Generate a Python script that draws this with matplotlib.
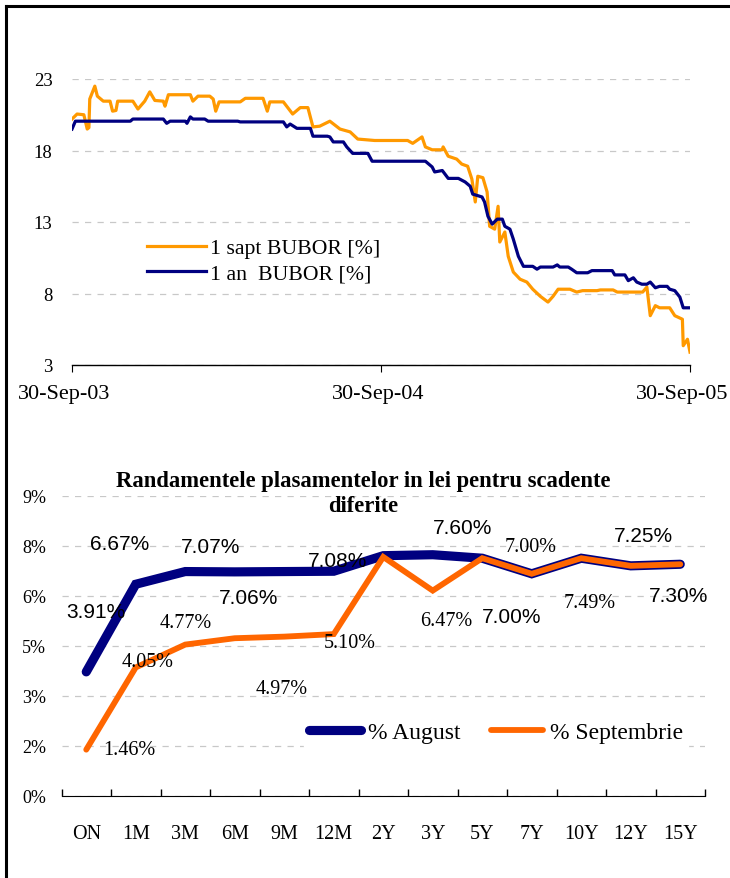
import numpy as np
import matplotlib
matplotlib.use("Agg")
import matplotlib.pyplot as plt
import matplotlib.dates as mdates
import matplotlib.transforms as mtransforms
from matplotlib.lines import Line2D

# ---- date sus: BUBOR (zile de la 30-Sep-03) ----
sapt_zile = [0, 6, 14, 18, 20, 21, 27, 30, 37, 45, 48, 52, 54, 72, 78, 86, 92, 98, 108, 110,
             114, 140, 143, 149, 163, 167, 170, 174, 199, 205, 226, 231, 234, 250, 261, 270,
             279, 285, 293, 305, 317, 329, 338, 358, 397, 403, 414, 418, 426, 438, 439, 445,
             455, 461, 468, 473, 477, 480, 486, 491, 494, 500, 504, 506, 512, 516, 522, 530,
             538, 545, 554, 563, 569, 575, 589, 597, 604, 621, 625, 640, 645, 675, 680, 684,
             690, 695, 707, 713, 722, 723, 728, 731]
sapt_val = [20.2, 20.55, 20.5, 19.5, 19.6, 21.6, 22.5, 21.8, 21.45, 21.45, 20.75, 20.8, 21.45,
            21.45, 20.9, 21.45, 22.1, 21.5, 21.45, 21.1, 21.9, 21.9, 21.45, 21.8, 21.8, 21.6,
            20.75, 21.4, 21.4, 21.65, 21.65, 20.75, 21.4, 21.4, 20.55, 21.0, 21.0, 19.65, 19.7,
            20.05, 19.5, 19.3, 18.8, 18.7, 18.7, 18.5, 18.95, 18.25, 18.05, 18.05, 18.25, 17.6,
            17.4, 17.05, 16.9, 16.0, 14.4, 16.2, 16.1, 15.1, 12.7, 12.5, 14.1, 11.6, 12.3, 10.6,
            9.5, 9.0, 8.8, 8.3, 7.8, 7.4, 7.8, 8.3, 8.3, 8.1, 8.2, 8.2, 8.25, 8.25, 8.1, 8.1,
            8.45, 6.45, 7.15, 7.0, 7.0, 6.45, 6.2, 4.35, 4.8, 3.9]

an_zile = [0, 4, 69, 72, 108, 112, 116, 134, 136, 140, 143, 157, 161, 196, 199, 250, 254, 258,
           266, 282, 285, 302, 305, 309, 321, 325, 332, 350, 355, 418, 426, 429, 438, 445, 457,
           465, 471, 474, 485, 488, 492, 497, 503, 509, 512, 518, 522, 528, 534, 545, 550, 554,
           569, 574, 577, 587, 591, 597, 610, 615, 639, 642, 654, 658, 664, 668, 674, 680, 684,
           690, 695, 704, 707, 713, 719, 723, 731]
an_val = [19.5, 20.05, 20.05, 20.2, 20.2, 19.9, 20.05, 20.05, 19.9, 20.35, 20.2, 20.2, 20.05,
          20.05, 20.0, 20.0, 19.65, 19.85, 19.55, 19.55, 19.0, 19.0, 18.95, 18.6, 18.6, 18.25,
          17.8, 17.8, 17.25, 17.25, 16.85, 16.5, 16.6, 16.05, 16.05, 15.8, 15.5, 14.95, 14.75,
          14.4, 13.4, 12.85, 13.2, 13.2, 12.7, 12.5, 11.8, 10.6, 9.9, 9.9, 9.7, 9.85, 9.85,
          10.0, 9.85, 9.85, 9.7, 9.45, 9.45, 9.6, 9.6, 9.3, 9.3, 8.9, 9.1, 8.8, 8.65, 8.65,
          8.8, 8.4, 8.5, 8.5, 8.3, 8.2, 7.75, 7.0, 7.0]

# ---- date jos: randamente ----
scadente = ["ON", "1M", "3M", "6M", "9M", "12M", "2Y", "3Y", "5Y", "7Y", "10Y", "12Y", "15Y"]
august = [3.91, 6.67, 7.07, 7.06, 7.07, 7.08, 7.57, 7.60, 7.49, 7.00, 7.49, 7.25, 7.30]
septembrie = [1.46, 4.05, 4.77, 4.97, 5.02, 5.10, 7.53, 6.47, 7.49, 7.00, 7.49, 7.25, 7.30]

# etichetele (mutate manual in original)
etich_aug = [("3.91%", 0.20, 5.80), ("6.67%", 0.67, 7.94), ("7.07%", 2.51, 7.87),
             ("7.06%", 3.27, 6.24), ("7.08%", 5.07, 7.43), ("7.60%", 7.60, 8.47),
             ("7.00%", 8.59, 5.64), ("7.25%", 11.25, 8.19), ("7.30%", 11.96, 6.30)]
etich_sep = [("1.46%", 0.87, 1.48), ("4.05%", 1.25, 4.25), ("4.77%", 2.02, 5.45),
             ("4.97%", 3.94, 3.40), ("5.10%", 5.33, 4.85), ("6.47%", 7.27, 5.54),
             ("7.00%", 8.97, 7.87), ("7.49%", 10.18, 6.11)]

serif = "Liberation Serif"
sans = "Liberation Sans"
ORANJ = "#FF9900"
NAVY = "#000080"
ORANJ2 = "#FF6600"

fig = plt.figure(figsize=[7.3, 8.79], dpi=100)

# rama
fig.add_artist(Line2D([5.5/730, 5.5/730], [0, 1 - 7/879], color="black", lw=2.2))
fig.add_artist(Line2D([5.5/730, 1], [1 - 7/879, 1 - 7/879], color="black", lw=2.2))

# ---------------- grafic 1 ----------------
ax1 = fig.add_axes([72/730, 1 - 366/879, 618/730, 286/879])
start = np.datetime64("2003-09-30")
d_sapt = start + np.array(sapt_zile).astype("timedelta64[D]")
d_an = start + np.array(an_zile).astype("timedelta64[D]")
ax1.plot(d_sapt, sapt_val, color=ORANJ, lw=2.3, label="1 sapt BUBOR [%]")
ax1.plot(d_an, an_val, color=NAVY, lw=2.3, label="1 an  BUBOR [%]")
ax1.set_xlim(start, np.datetime64("2005-09-30"))
ax1.set_ylim(3, 23)
ax1.set_yticks([3, 8, 13, 18, 23])
ax1.set_xticks([start, np.datetime64("2004-09-30"), np.datetime64("2005-09-30")])
ax1.xaxis.set_major_formatter(mdates.DateFormatter("%d-%b-%y"))
for s in ["left", "right", "top"]:
    ax1.spines[s].set_visible(False)
ax1.spines["bottom"].set_linewidth(1.0)
ax1.yaxis.grid(True, color="#C8C8C8", lw=0.9, linestyle=(0, (5, 5)))
ax1.tick_params(axis="y", length=0, pad=14, labelsize=13.5)
ax1.tick_params(axis="x", length=5, direction="out", pad=9, labelsize=16)
for t in ax1.get_xticklabels() + ax1.get_yticklabels():
    t.set_fontfamily(serif)
# Excel muta etichetele de la capete ca sa incapa
for t, dx in zip(ax1.get_xticklabels(), [-8, -3, -8]):
    t.set_transform(t.get_transform() + mtransforms.ScaledTranslation(dx/100, 0, fig.dpi_scale_trans))
leg1 = ax1.legend(loc="upper left", bbox_to_anchor=(0.107, 1 - (224-80)/286 - 0.022),
                  frameon=False, prop={"family": serif, "size": 15.7},
                  handlelength=2.7, handletextpad=0.2, labelspacing=0.25, borderaxespad=0)

# ---------------- grafic 2 ----------------
ax2 = fig.add_axes([61.5/730, 1 - 797/879, 643.5/730, 300/879])
x = np.arange(len(scadente))
ax2.plot(x, august, color=NAVY, lw=6.6, solid_capstyle="round", solid_joinstyle="miter",
         label="% August", zorder=3)
ax2.plot(x, septembrie, color=ORANJ2, lw=4.2, solid_capstyle="round",
         solid_joinstyle="miter", label="% Septembrie", zorder=4)
ax2.set_xlim(-0.5, len(scadente) - 0.5)
ax2.set_ylim(0, 9.45)
yt = np.arange(0, 9.46, 1.575)
ax2.set_yticks(yt)
ax2.set_yticklabels(["%d%%" % round(v + 1e-9) for v in yt])
ax2.set_xticks(x)
ax2.set_xticklabels(scadente)
ax2.set_xticks(np.arange(-0.5, len(scadente)), minor=True)
for s in ["left", "right", "top"]:
    ax2.spines[s].set_visible(False)
ax2.yaxis.grid(True, color="#C8C8C8", lw=0.9, linestyle=(0, (5, 5)))
ax2.tick_params(axis="y", length=0, pad=11, labelsize=13)
ax2.tick_params(axis="x", which="major", length=0, pad=20, labelsize=14.5)
ax2.tick_params(axis="x", which="minor", length=5, direction="in", width=1)
for t in ax2.get_xticklabels() + ax2.get_yticklabels():
    t.set_fontfamily(serif)

for txt, xx, yy in etich_aug:
    ax2.text(xx, yy, txt, ha="center", va="center", fontsize=15, family=sans, zorder=5)
for txt, xx, yy in etich_sep:
    ax2.text(xx, yy, txt, ha="center", va="center", fontsize=14.5, family=serif, zorder=5)

leg2 = ax2.legend(loc="center", bbox_to_anchor=(496/730, 1 - 733/879),
                  bbox_transform=fig.transFigure, ncol=2, frameon=True, framealpha=1,
                  edgecolor="white", facecolor="white", fancybox=False,
                  prop={"family": serif, "size": 17}, handlelength=2.2,
                  handletextpad=0.3, columnspacing=1.3, borderpad=0.2)
leg2.set_zorder(6)

fig.text(363/730, 1 - 494/879,
         "Randamentele plasamentelor in lei pentru scadente\ndiferite",
         ha="center", va="center", fontsize=16.3, fontweight="bold", family=serif,
         linespacing=1.2)

plt.savefig("out.png", dpi=100)
